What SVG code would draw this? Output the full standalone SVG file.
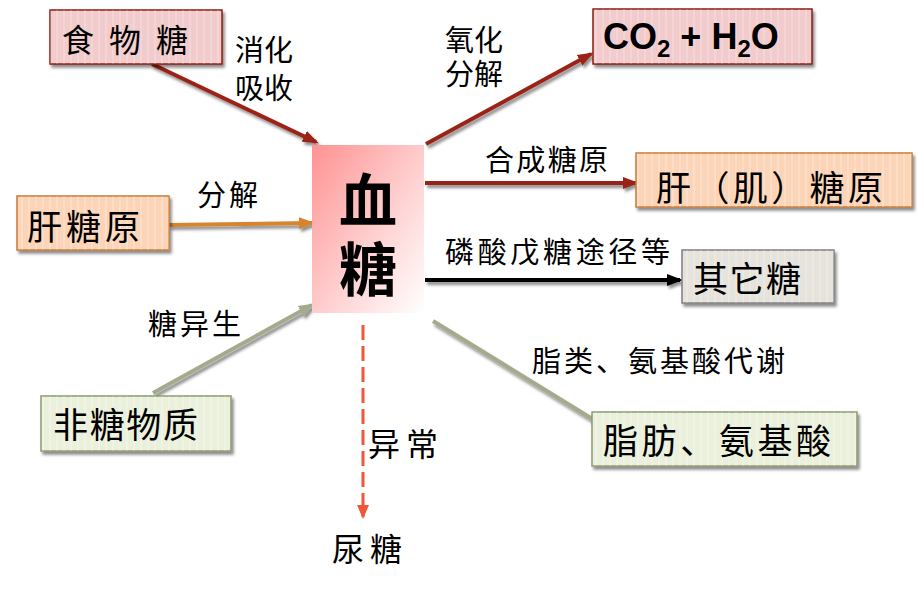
<svg xmlns="http://www.w3.org/2000/svg" width="917" height="594" viewBox="0 0 917 594">
<style>
.cjk{font-family:"Noto Sans CJK SC","Noto Sans CJK TC",sans-serif;fill:#000}
.box{stroke-width:1.5}
.lbl{font-size:29px}
.bt{font-size:35px}
</style>
<defs>
<filter id="sh" x="-20%" y="-20%" width="140%" height="150%">
<feDropShadow dx="2" dy="3" stdDeviation="1.8" flood-color="#000" flood-opacity="0.45"/>
</filter>
<linearGradient id="gBlood" x1="0" y1="0" x2="1" y2="1">
<stop offset="0" stop-color="#ff9292"/>
<stop offset="0.55" stop-color="#ffd0d0"/>
<stop offset="1" stop-color="#ffffff"/>
</linearGradient>
<pattern id="stripe" width="7" height="10" patternUnits="userSpaceOnUse">
<rect x="0" y="0" width="2" height="10" fill="#ffffff" fill-opacity="0.18"/>
</pattern>
<marker id="aRed" markerUnits="userSpaceOnUse" markerWidth="16" markerHeight="14" refX="13" refY="7" orient="auto"><path d="M0,1 L16,7 L0,13 z" fill="#9a2416"/></marker>
<marker id="aOrg" markerUnits="userSpaceOnUse" markerWidth="16" markerHeight="14" refX="13" refY="7" orient="auto"><path d="M0,1 L16,7 L0,13 z" fill="#d6842e"/></marker>
<marker id="aGrn" markerUnits="userSpaceOnUse" markerWidth="16" markerHeight="14" refX="13" refY="7" orient="auto"><path d="M0,1 L16,7 L0,13 z" fill="#a3ab8c"/></marker>
<marker id="aBlk" markerUnits="userSpaceOnUse" markerWidth="16" markerHeight="14" refX="13" refY="7" orient="auto"><path d="M0,1 L16,7 L0,13 z" fill="#000"/></marker>
<marker id="aDsh" markerUnits="userSpaceOnUse" markerWidth="14" markerHeight="14" refX="12" refY="6" orient="auto"><path d="M0,0 L14,6 L0,12 z" fill="#f0573a"/></marker>
</defs>
<rect width="917" height="594" fill="#fff"/>

<g id="connectors" fill="none">
<g filter="url(#sh)">
<line x1="152" y1="64" x2="316" y2="142" stroke="#9a2416" stroke-width="4" marker-end="url(#aRed)"/>
<line x1="426" y1="144" x2="591" y2="54" stroke="#9a2416" stroke-width="4" marker-end="url(#aRed)"/>
<line x1="425" y1="183" x2="636" y2="183" stroke="#9a2416" stroke-width="4" marker-end="url(#aRed)"/>
<line x1="169" y1="225" x2="312" y2="223" stroke="#d6842e" stroke-width="4" marker-end="url(#aOrg)"/>
<line x1="425" y1="280" x2="680" y2="280" stroke="#000" stroke-width="4" marker-end="url(#aBlk)"/>
<line x1="153" y1="393" x2="312" y2="305" stroke="#a3ab8c" stroke-width="4" marker-end="url(#aGrn)"/>
<line x1="433" y1="321" x2="594" y2="420" stroke="#a3ab8c" stroke-width="4"/>
</g>
<line x1="363" y1="325" x2="363" y2="517" stroke="#f0573a" stroke-width="3" stroke-dasharray="15 6" marker-end="url(#aDsh)"/>
</g>

<g id="labels" class="cjk lbl">
<text x="235" y="61">消化<tspan x="235" y="99">吸收</tspan></text>
<text x="445" y="51">氧化<tspan x="445" y="85">分解</tspan></text>
<text x="485" y="171" textLength="123" lengthAdjust="spacing">合成糖原</text>
<text x="197" y="206" textLength="61" lengthAdjust="spacing">分解</text>
<text x="445" y="263" textLength="225" lengthAdjust="spacing">磷酸戊糖途径等</text>
<text x="148" y="335" textLength="93" lengthAdjust="spacing">糖异生</text>
<text x="532" y="372" textLength="253" lengthAdjust="spacing">脂类、氨基酸代谢</text>
<text x="368" y="456" font-size="32" textLength="70" lengthAdjust="spacing">异常</text>
<text x="332" y="561" font-size="32" textLength="70" lengthAdjust="spacing">尿糖</text>
</g>

<g id="food">
<rect x="50" y="10" width="172" height="54" fill="#f2cccd" stroke="#8c1c13" class="box" filter="url(#sh)"/>
<rect x="50" y="10" width="172" height="54" fill="url(#stripe)"/>
<text x="62" y="52" class="cjk" font-size="32" textLength="126" lengthAdjust="spacing">食 物 糖</text>
</g>

<g id="co2">
<rect x="593" y="9" width="219" height="55" fill="#f2cccd" stroke="#8c1c13" class="box" filter="url(#sh)"/>
<rect x="593" y="9" width="219" height="55" fill="url(#stripe)"/>
<text x="603" y="49" font-family="Liberation Sans, Arial, sans-serif" font-weight="bold" font-size="36" fill="#000">CO<tspan font-size="24" dy="8">2</tspan><tspan dy="-8"> + H</tspan><tspan font-size="24" dy="8">2</tspan><tspan dy="-8">O</tspan></text>
</g>

<g id="liver">
<rect x="17" y="196" width="152" height="54" fill="#fcd5b9" stroke="#c77b3a" class="box" filter="url(#sh)"/>
<rect x="17" y="196" width="152" height="54" fill="url(#stripe)"/>
<text x="27" y="240" class="cjk bt" textLength="113" lengthAdjust="spacing">肝糖原</text>
</g>

<g id="blood">
<rect x="312" y="145" width="112" height="168" fill="url(#gBlood)"/>
<text x="368" y="222" class="cjk" font-size="58" font-weight="bold" text-anchor="middle">血<tspan x="368" y="291">糖</tspan></text>
</g>

<g id="glycogen">
<rect x="636" y="153" width="276" height="54" fill="#fcd5b9" stroke="#c77b3a" class="box" filter="url(#sh)"/>
<rect x="636" y="153" width="276" height="54" fill="url(#stripe)"/>
<text x="656" y="201" class="cjk bt" textLength="227" lengthAdjust="spacing">肝（肌）糖原</text>
</g>

<g id="othersugar">
<rect x="682" y="250" width="152" height="53" fill="#e6e3dc" stroke="#7f7f7f" class="box" filter="url(#sh)"/>
<rect x="682" y="250" width="152" height="53" fill="url(#stripe)"/>
<text x="693" y="292" class="cjk bt" textLength="108" lengthAdjust="spacing">其它糖</text>
</g>

<g id="nonsugar">
<rect x="41" y="396" width="190" height="55" fill="#ebf0dc" stroke="#8d9a6e" class="box" filter="url(#sh)"/>
<rect x="41" y="396" width="190" height="55" fill="url(#stripe)"/>
<text x="53" y="438" class="cjk bt" textLength="145" lengthAdjust="spacing">非糖物质</text>
</g>

<g id="fat">
<rect x="592" y="412" width="265" height="54" fill="#ebf0dc" stroke="#8d9a6e" class="box" filter="url(#sh)"/>
<rect x="592" y="412" width="265" height="54" fill="url(#stripe)"/>
<text x="603" y="454" class="cjk bt" textLength="228" lengthAdjust="spacing">脂肪、氨基酸</text>
</g>
</svg>
